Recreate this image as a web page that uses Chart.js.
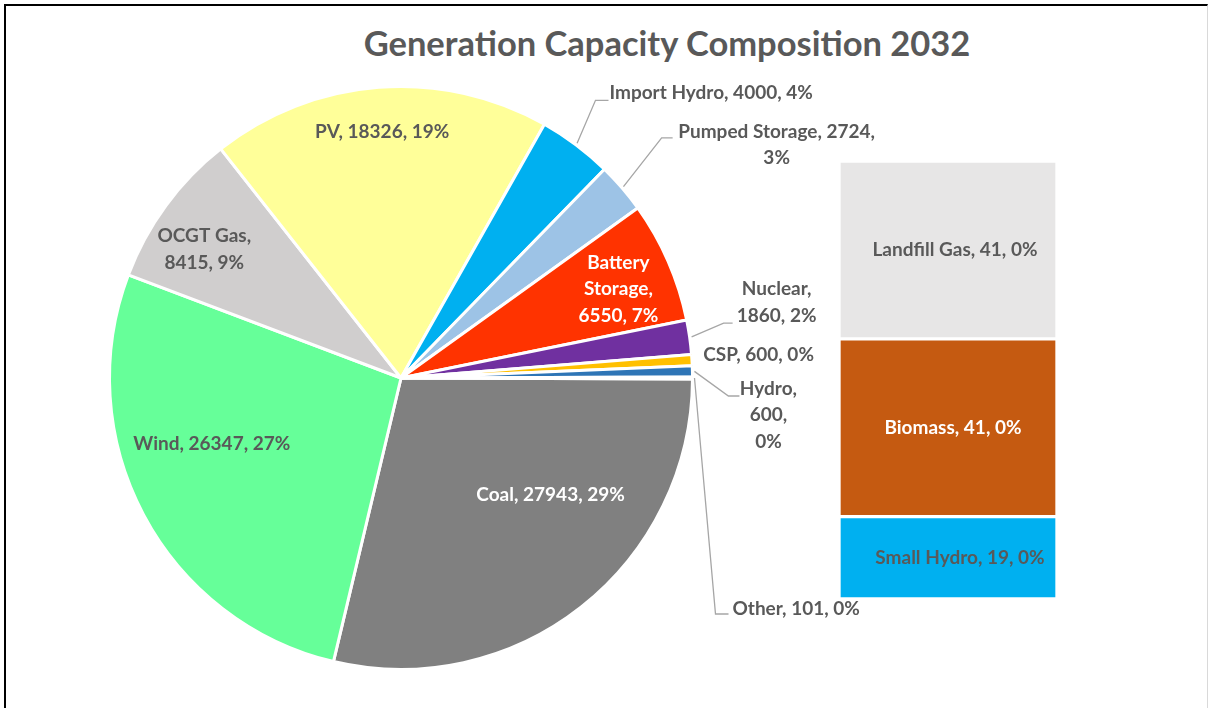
<!DOCTYPE html>
<html>
<head>
<meta charset="utf-8">
<script src="https://cdn.jsdelivr.net/npm/chart.js@4.4.1/dist/chart.umd.min.js"></script>
<style>
  body { margin: 0; background: #fff; }
  #lienzo { position: relative; width: 1208px; height: 708px; overflow: hidden; }
  #marco { position: absolute; left: 4px; top: 4px; width: 1204px; height: 760px; box-sizing: border-box;
    border-left: 2px solid #000; border-top: 2px solid #000; border-right: 1px solid #d9d9d9; }
  #titulo { position: absolute; left: 0; top: 22px; width: 1334px; text-align: center; line-height: 1;
    font: bold 34.5px Lato; color: #595959; }
  #graficoTorta { position: absolute; left: 0; top: 0; }
  #graficoBarra { position: absolute; left: 839px; top: 161px; }
</style>
</head>
<body>
<div id="lienzo">
  <div id="marco"></div>
  <div id="titulo">Generation Capacity Composition 2032</div>
  <canvas id="graficoTorta" width="1208" height="708"></canvas>
  <canvas id="graficoBarra" width="218" height="438"></canvas>
</div>
<script>
const categorias = ["Coal", "Wind", "OCGT Gas", "PV", "Import Hydro", "Pumped Storage", "Battery Storage", "Nuclear", "CSP", "Hydro", "Other"];
const valores = [27943, 26347, 8415, 18326, 4000, 2724, 6550, 1860, 600, 600, 101];
const porcentajes = [29, 27, 9, 19, 4, 3, 7, 2, 0, 0, 0];

// desglose de "Other" (barra de la derecha, de abajo hacia arriba)
const categoriasOtros = ["Small Hydro", "Biomass", "Landfill Gas"];
const valoresOtros = [19, 41, 41];
const porcentajesOtros = [0, 0, 0];

const coloresTorta = ["#808080", "#66FF99", "#D0CECE", "#FFFF99", "#00B0F0", "#9DC3E6", "#FF3300", "#7030A0", "#FFC000", "#2E75B6", "#FFFFFF"];
const coloresBarra = ["#00B0F0", "#C55A11", "#E7E6E6"];

const GRIS = "#595959";
const FUENTE = "bold 19px Lato";
const ALTO_LINEA = 26.5;

// posicion de cada etiqueta: dentro (giro/radio) o fuera con linea guia (dx/dy desde el borde)
const etiquetas = {
  "Coal": { giro: -13.7, radio: 0.652, color: "#FFFFFF" },
  "Wind": { giro: 8.8, radio: 0.687 },
  "OCGT Gas": { giro: -3.1, radio: 0.806, palabras: [2, 2] },
  "PV": { giro: 0, radio: 0.847 },
  "Import Hydro": { dx: 33.6, dy: -51.5, alinear: "left", guia: [[19.6, -44.5], [32.6, -44.5]] },
  "Pumped Storage": { dx: 154.7, dy: -43.1, palabras: [3, 1], guia: [[39.7, -50], [50.7, -50]] },
  "Battery Storage": { giro: 1.3, radio: 0.806, color: "#FFFFFF", palabras: [1, 1, 2] },
  "Nuclear": { dx: 87, dy: -34.6, palabras: [1, 2], guia: [[34, -14], [43, -14]] },
  "CSP": { dx: 66.6, dy: -5.3 },
  "Hydro": { dx: 76, dy: 43.6, palabras: [1, 1, 1], guia: [[36, 24.6], [47, 24.6]] },
  "Other": { dx: 40, dy: 231, alinear: "left", guia: [[23, 236], [36, 236]] }
};

const etiquetasBarra = {
  "Small Hydro": { dx: 12 },
  "Biomass": { dx: 5, color: "#FFFFFF" },
  "Landfill Gas": { dx: 7 }
};

function textoEtiqueta(nombre, valor, pct){
  return nombre + ", " + valor + ", " + pct + "%";
}

function partirTexto(texto, palabras){
  if(!palabras) return [texto];
  const trozos = texto.split(" ");
  const lineas = [];
  let k = 0;
  palabras.forEach(n => {
    lineas.push(trozos.slice(k, k + n).join(" "));
    k += n;
  });
  return lineas;
}

function escribirLineas(ctx, lineas, x, y){
  lineas.forEach((l, j) => {
    ctx.fillText(l, x, y + (j - (lineas.length - 1) / 2) * ALTO_LINEA);
  });
}

const pluginEtiquetasTorta = {
  id: "etiquetasTorta",
  afterDatasetsDraw(chart){
    const ctx = chart.ctx;
    const arcos = chart.getDatasetMeta(0).data;
    ctx.save();
    ctx.font = FUENTE;
    ctx.textBaseline = "middle";

    arcos.forEach((arco, i) => {
      const p = arco.getProps(["x", "y", "startAngle", "endAngle", "outerRadius"], true);
      const medio = (p.startAngle + p.endAngle) / 2;
      const conf = etiquetas[categorias[i]];
      const lineas = partirTexto(textoEtiqueta(categorias[i], valores[i], porcentajes[i]), conf.palabras);
      let cx, cy;

      if(conf.radio){
        const a = medio + conf.giro * Math.PI / 180;
        cx = p.x + Math.cos(a) * p.outerRadius * conf.radio;
        cy = p.y + Math.sin(a) * p.outerRadius * conf.radio;
      } else {
        const ax = p.x + Math.cos(medio) * p.outerRadius;
        const ay = p.y + Math.sin(medio) * p.outerRadius;
        if(conf.guia){
          ctx.strokeStyle = "#A6A6A6";
          ctx.lineWidth = 1.3;
          ctx.beginPath();
          ctx.moveTo(ax + Math.cos(medio) * 2, ay + Math.sin(medio) * 2);
          conf.guia.forEach(g => ctx.lineTo(ax + g[0], ay + g[1]));
          ctx.stroke();
        }
        cx = ax + conf.dx;
        cy = ay + conf.dy;
      }

      ctx.fillStyle = conf.color || GRIS;
      ctx.textAlign = conf.alinear || "center";
      escribirLineas(ctx, lineas, cx, cy);
    });

    ctx.restore();
  }
};

const pluginEtiquetasBarra = {
  id: "etiquetasBarra",
  afterDatasetsDraw(chart){
    const ctx = chart.ctx;
    ctx.save();
    ctx.font = FUENTE;
    ctx.textBaseline = "middle";
    ctx.textAlign = "center";

    categoriasOtros.forEach((nombre, i) => {
      const barra = chart.getDatasetMeta(i).data[0];
      const p = barra.getProps(["x", "y", "base"], true);
      const conf = etiquetasBarra[nombre];
      ctx.fillStyle = conf.color || GRIS;
      ctx.fillText(textoEtiqueta(nombre, valoresOtros[i], porcentajesOtros[i]), p.x + conf.dx, (p.y + p.base) / 2);
    });

    ctx.restore();
  }
};

const total = valores.reduce((a, b) => a + b, 0);
// "Other" queda centrado a las 3 en punto, como en Excel
const giroInicial = 90 + (valores[valores.length - 1] / total * 360) / 2;

new Chart(document.getElementById("graficoTorta"), {
  type: "pie",
  data: {
    labels: categorias,
    datasets: [{
      data: valores,
      backgroundColor: coloresTorta,
      borderColor: "#FFFFFF",
      borderWidth: 3
    }]
  },
  options: {
    responsive: false,
    animation: false,
    events: [],
    rotation: giroInicial,
    layout: { padding: { left: 108, top: 85, right: 514, bottom: 37 } },
    plugins: {
      legend: { display: false },
      tooltip: { enabled: false }
    }
  },
  plugins: [pluginEtiquetasTorta]
});

new Chart(document.getElementById("graficoBarra"), {
  type: "bar",
  data: {
    labels: ["Other"],
    datasets: categoriasOtros.map((nombre, i) => ({
      label: nombre,
      data: [valoresOtros[i]],
      backgroundColor: coloresBarra[i],
      borderColor: "#FFFFFF",
      borderWidth: 2,
      borderSkipped: false,
      barPercentage: 1,
      categoryPercentage: 1
    }))
  },
  options: {
    responsive: false,
    animation: false,
    events: [],
    layout: { padding: 0 },
    scales: {
      x: { display: false, stacked: true },
      y: { display: false, stacked: true, min: 0, max: valoresOtros.reduce((a, b) => a + b, 0) }
    },
    plugins: {
      legend: { display: false },
      tooltip: { enabled: false }
    }
  },
  plugins: [pluginEtiquetasBarra]
});
</script>
</body>
</html>
